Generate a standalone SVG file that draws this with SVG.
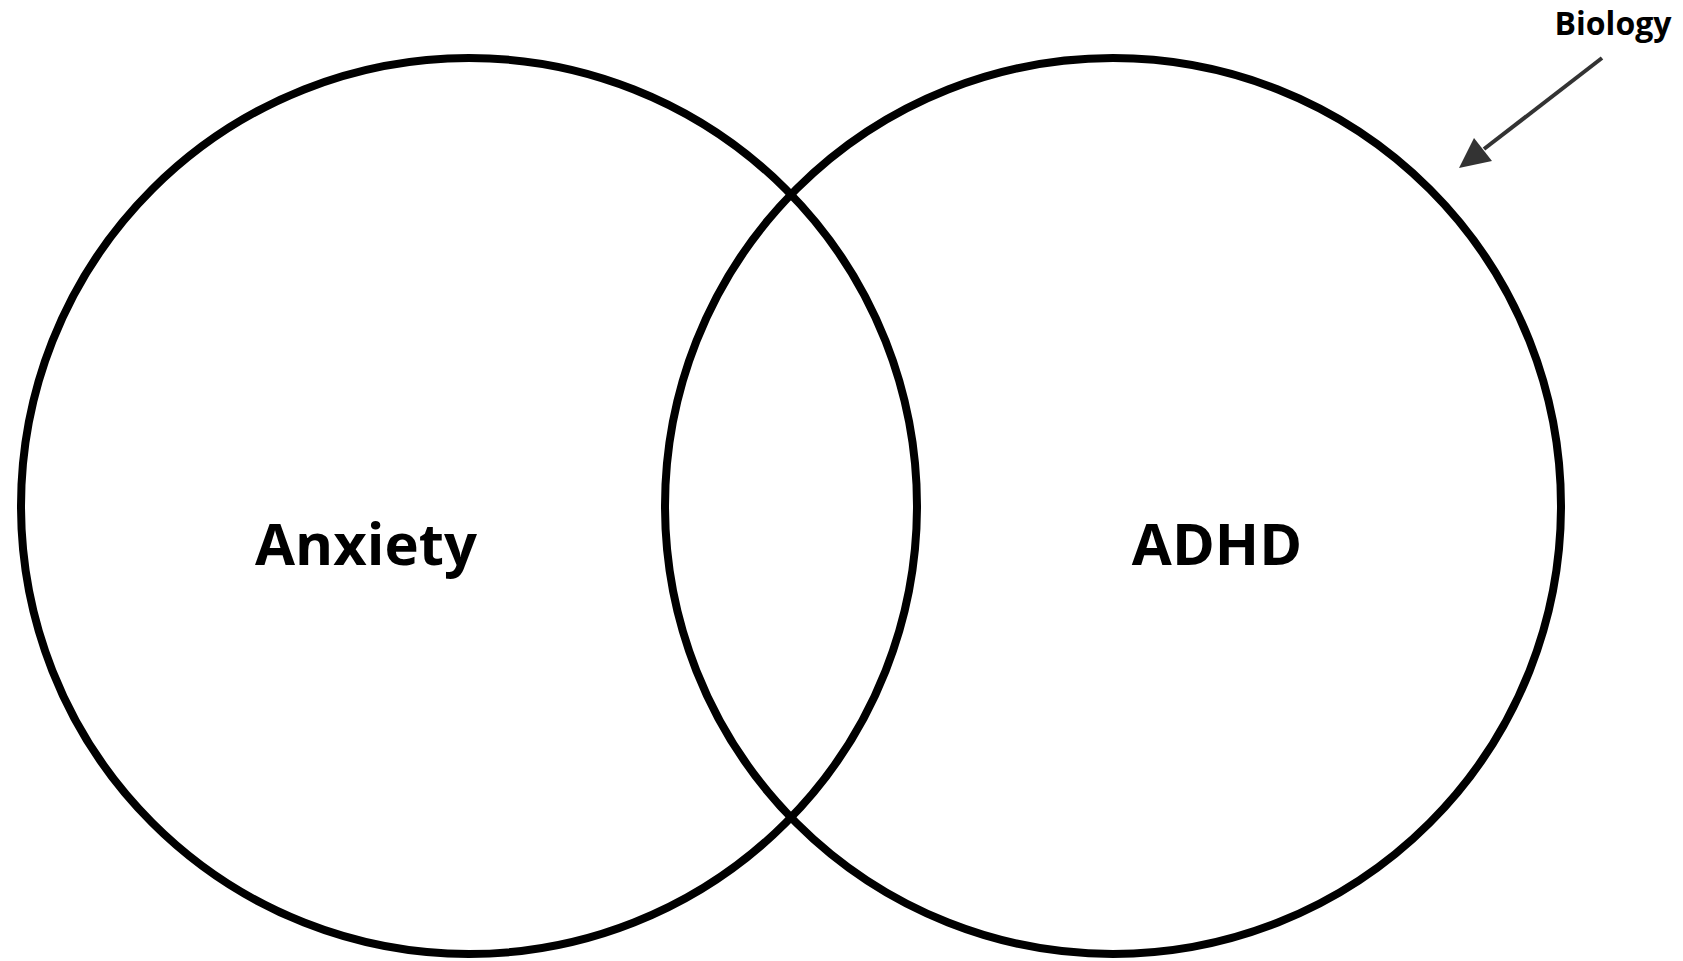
<svg xmlns="http://www.w3.org/2000/svg" width="1683" height="961" viewBox="0 0 1683 961">
<style>
.ring{fill:none;stroke:#000;stroke-width:8}
.big{font-family:"Open Sans","Liberation Sans",sans-serif;font-weight:700;font-size:58px;fill:#000}
.small{font-family:"Open Sans","Liberation Sans",sans-serif;font-weight:700;font-size:32px;fill:#000}
.arrow{stroke:#333;stroke-width:4;fill:none}
.head{fill:#333;stroke:none}
</style>
<rect width="1683" height="961" fill="#fff"/>
<g id="anxiety">
<circle class="ring" cx="469" cy="506" r="448"/>
<text class="big" x="366" y="565" text-anchor="middle">Anxiety</text>
</g>
<g id="adhd">
<circle class="ring" cx="1113" cy="506" r="448"/>
<text class="big" x="1217" y="565" text-anchor="middle">ADHD</text>
</g>
<g id="biology">
<text class="small" x="1613" y="35" text-anchor="middle">Biology</text>
</g>
<g id="connectors">
<line class="arrow" x1="1602" y1="58" x2="1484" y2="149"/>
<polygon class="head" points="1459,168 1492,161 1474,138"/>
</g>
</svg>
